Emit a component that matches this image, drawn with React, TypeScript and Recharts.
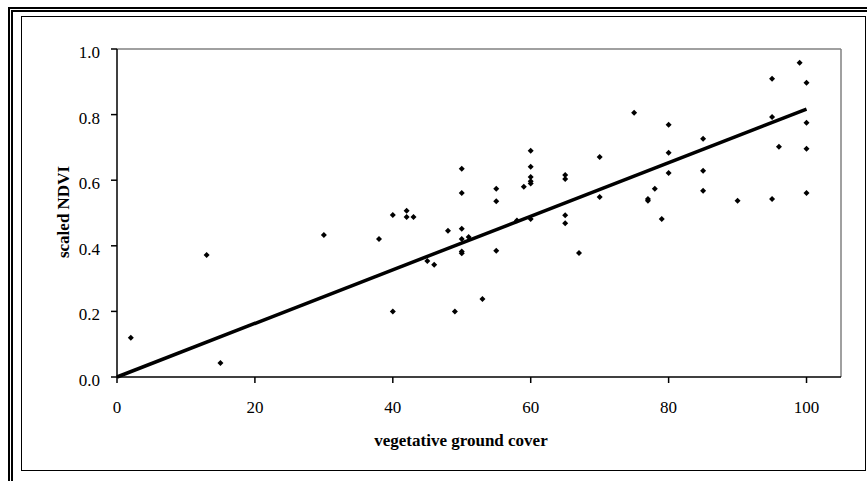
import React from 'react';
import { ScatterChart, Scatter, XAxis, YAxis, ReferenceLine } from 'recharts';

// vegetative ground cover (%) and scaled NDVI
const cover = [
  2, 13, 15, 30, 38, 40, 40, 42, 42, 43, 45, 46, 48, 49, 50, 50, 50, 50, 50, 50, 51,
  53, 55, 55, 55, 58, 59, 60, 60, 60, 60, 60, 60, 65, 65, 65, 65, 67, 70, 70, 75,
  77, 77, 78, 79, 80, 80, 80, 85, 85, 85, 90, 95, 95, 95, 96, 99, 100, 100, 100, 100,
];
const ndvi = [
  0.12, 0.372, 0.043, 0.433, 0.421, 0.494, 0.2, 0.507, 0.488, 0.488, 0.354, 0.342, 0.446,
  0.2, 0.635, 0.561, 0.452, 0.421, 0.383, 0.377, 0.427, 0.238, 0.574, 0.536, 0.385, 0.477,
  0.58, 0.69, 0.641, 0.61, 0.597, 0.59, 0.482, 0.616, 0.604, 0.493, 0.469, 0.378, 0.671,
  0.549, 0.806, 0.543, 0.537, 0.574, 0.482, 0.769, 0.684, 0.622, 0.726, 0.629, 0.568,
  0.537, 0.909, 0.793, 0.543, 0.702, 0.958, 0.897, 0.775, 0.696, 0.561,
];

// linear fit through the origin
const trendX = [0, 100];
const trendY = [0, 0.817];

const xTicks = [0, 20, 40, 60, 80, 100];
const yTicks = [0, 0.2, 0.4, 0.6, 0.8, 1.0];

const points = cover.map((c, i) => ({ cover: c, ndvi: ndvi[i] }));

const font = '"Liberation Serif", "Times New Roman", serif';

const Diamond = (props: any) => {
  const { cx, cy } = props;
  return <path d={`M${cx},${cy - 3}L${cx + 3},${cy}L${cx},${cy + 3}L${cx - 3},${cy}Z`} fill="#000" />;
};

const YTick = (props: any) => (
  <text x={props.x} y={props.y + 9} textAnchor="end" fontSize={17} fontFamily={font} fill="#000">
    {Number(props.payload.value).toFixed(1)}
  </text>
);

const XTick = (props: any) => (
  <text x={props.x} y={props.y + 12} textAnchor="middle" fontSize={17} fontFamily={font} fill="#000">
    {props.payload.value}
  </text>
);

export default function App() {
  return (
    <div style={{ position: 'absolute', left: 0, top: 0, width: 867, height: 481, background: '#fff', overflow: 'hidden' }}>
      <div style={{ position: 'absolute', left: 8, top: 7, width: 900, height: 520, border: '5px double #000', boxSizing: 'border-box' }} />
      <div style={{ position: 'absolute', left: 21, top: 16, width: 845, height: 455, border: '1.5px solid #000', boxSizing: 'border-box' }} />
      <div style={{ position: 'absolute', left: 0, top: 0 }}>
        <ScatterChart width={867} height={481} margin={{ top: 49, right: 26, bottom: 54, left: 57 }}>
          <XAxis
            type="number"
            dataKey="cover"
            domain={[0, 105]}
            ticks={xTicks}
            height={50}
            tickSize={6}
            tickMargin={18}
            tick={<XTick />}
            axisLine={{ stroke: '#000', strokeWidth: 1.5 }}
            tickLine={{ stroke: '#000', strokeWidth: 1.5 }}
            label={{ value: 'vegetative ground cover', content: () => (
              <text x={461} y={446} textAnchor="middle" fontSize={17} fontWeight="bold" fontFamily={font} fill="#000">
                vegetative ground cover
              </text>
            ) }}
          />
          <YAxis
            type="number"
            dataKey="ndvi"
            domain={[0, 1]}
            ticks={yTicks}
            width={60}
            tickSize={6}
            tickMargin={11}
            tick={<YTick />}
            axisLine={{ stroke: '#000', strokeWidth: 1.5 }}
            tickLine={{ stroke: '#000', strokeWidth: 1.5 }}
            label={{ value: 'scaled NDVI', content: () => (
              <text x={63} y={212} transform="rotate(-90, 63, 212)" textAnchor="middle" dominantBaseline="central" fontSize={17} fontWeight="bold" fontFamily={font} fill="#000">
                scaled NDVI
              </text>
            ) }}
          />
          <ReferenceLine y={1} stroke="#808080" strokeWidth={1.5} />
          <ReferenceLine x={105} stroke="#808080" strokeWidth={1.5} />
          <ReferenceLine
            segment={[{ x: trendX[0], y: trendY[0] }, { x: trendX[1], y: trendY[1] }]}
            stroke="#000"
            strokeWidth={3.5}
          />
          <Scatter data={points} shape={<Diamond />} isAnimationActive={false} />
        </ScatterChart>
      </div>
    </div>
  );
}
